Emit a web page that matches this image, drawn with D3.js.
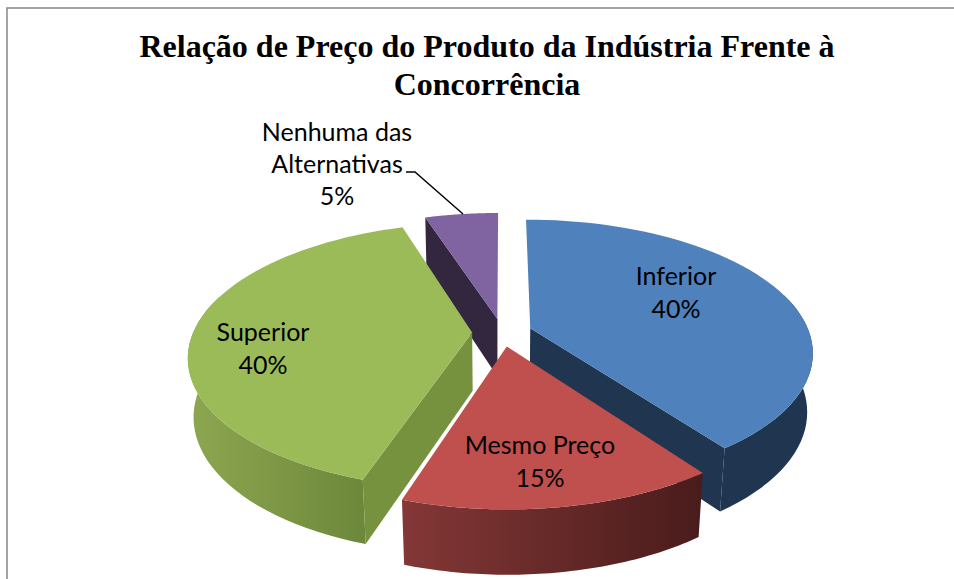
<!DOCTYPE html>
<html>
<head>
<meta charset="utf-8">
<script src="https://cdn.jsdelivr.net/npm/d3@7"></script>
<style>
  html, body { margin: 0; padding: 0; background: #fff; overflow: hidden; }
</style>
</head>
<body>
<div class="canvas"></div>
<script>
// chart data
const categories = ['Inferior', 'Mesmo Preço', 'Superior', 'Nenhuma das Alternativas'];
const shares = [40, 15, 40, 5];
const titleLines = ['Relação de Preço do Produto da Indústria Frente à', 'Concorrência'];

const topColors = ['#4f81bd', '#c0504d', '#9bbb59', '#8064a2'];
const cutColors = ['#1f3550', '#4a1d1c', '#76923f', '#32273f'];

const svg = d3.select('.canvas').append('svg')
    .attr('width', 954)
    .attr('height', 579)
    .style('display', 'block');

// chart frame, runs off the right and bottom of the picture
svg.append('path')
    .attr('d', 'M7,579V8H954')
    .attr('fill', 'none')
    .attr('stroke', '#868686')
    .attr('stroke-width', 1.5);

// gradients for the outer walls
const defs = svg.append('defs');
function wallGradient(id, x1, x2, from, to) {
  const g = defs.append('linearGradient')
      .attr('id', id)
      .attr('gradientUnits', 'userSpaceOnUse')
      .attr('x1', x1).attr('x2', x2).attr('y1', 0).attr('y2', 0);
  g.append('stop').attr('offset', 0).attr('stop-color', from);
  g.append('stop').attr('offset', 1).attr('stop-color', to);
}
wallGradient('wall0', 700, 815, '#1f3550', '#1f3550');
wallGradient('wall1', 404, 702, '#833736', '#491c1b');
wallGradient('wall2', 190, 368, '#8da650', '#6c873a');
wallGradient('wall3', 420, 500, '#32273f', '#32273f');

// the tilted pie: world coords in pie radii, z = 1 is the underside
const cx = 502, cy = 332.5;
const radiusX = 279, radiusY = 129, depth = 60;
const perspective = 0.175, sinkX = 0.018, sinkY = 0.03;
const explode = 0.107;

function project(x, y, z) {
  const sx = 1 / (1 - perspective * y + sinkX * z);
  const sy = 1 / (1 - perspective * y + sinkY * z);
  return [cx + x * radiusX * sx, cy + (y * radiusY + z * depth) * sy];
}

const pie = d3.pie().sort(null).value(d => d);
const arcs = pie(shares);
const line = d3.line();

function slicePoints(a, z) {
  const mid = (a.startAngle + a.endAngle) / 2;
  const ox = Math.sin(mid) * explode, oy = -Math.cos(mid) * explode;
  const n = 60;
  const angles = d3.range(n + 1).map(i => a.startAngle + (a.endAngle - a.startAngle) * i / n);
  const toPoint = t => project(ox + Math.sin(t), oy - Math.cos(t), z);
  return {
    apex: project(ox, oy, z),
    rim: angles.map(toPoint),
    // only the part of the rim that faces the viewer gets a wall
    front: angles.filter(t => Math.cos(t) < 0.3).map(toPoint)
  };
}

function closed(points) {
  return line(points) + 'Z';
}

// back to front: purple, blue, green, red
const drawOrder = [3, 0, 2, 1];
const chart = svg.append('g');

drawOrder.forEach(i => {
  const a = arcs[i];
  const top = slicePoints(a, 0);
  const bottom = slicePoints(a, 1);

  // outer wall
  if (top.front.length > 1) {
    chart.append('path')
        .attr('d', closed(top.front.concat(bottom.front.slice().reverse())))
        .attr('fill', 'url(#wall' + i + ')');
  }

  // cut face: green and purple show their start edge, blue its end edge, red none
  if (i !== 1) {
    const at = i === 0 ? top.rim.length - 1 : 0;
    chart.append('path')
        .attr('d', closed([top.apex, top.rim[at], bottom.rim[at], bottom.apex]))
        .attr('fill', cutColors[i]);
  }

  // top face
  chart.append('path')
      .attr('d', closed([top.apex].concat(top.rim)))
      .attr('fill', topColors[i]);
});

// title
svg.append('g').selectAll('text')
    .data(titleLines)
  .join('text')
    .attr('x', 487)
    .attr('y', (d, i) => 57 + i * 38)
    .attr('text-anchor', 'middle')
    .style('font-family', '"Liberation Serif"')
    .style('font-weight', 'bold')
    .style('font-size', '32px')
    .attr('fill', '#000')
    .text(d => d);

// data labels
const labelFont = 'Lato';
const labelSize = '25px';
const labelSpots = [
  { x: 676, y: 285, lines: [categories[0], shares[0] + '%'], gap: 33 },
  { x: 540, y: 454, lines: [categories[1], shares[1] + '%'], gap: 33 },
  { x: 263, y: 341, lines: [categories[2], shares[2] + '%'], gap: 33 },
  { x: 337, y: 141, lines: ['Nenhuma das', 'Alternativas', shares[3] + '%'], gap: 32 }
];

labelSpots.forEach(spot => {
  svg.append('g').selectAll('text')
      .data(spot.lines)
    .join('text')
      .attr('x', spot.x)
      .attr('y', (d, i) => spot.y + i * spot.gap)
      .attr('text-anchor', 'middle')
      .style('font-family', labelFont)
      .style('font-size', labelSize)
      .attr('fill', '#000')
      .text(d => d);
});

// leader line for the small slice
svg.append('path')
    .attr('d', 'M406,172H415L463,214')
    .attr('fill', 'none')
    .attr('stroke', '#000')
    .attr('stroke-width', 1.4);
</script>
</body>
</html>
